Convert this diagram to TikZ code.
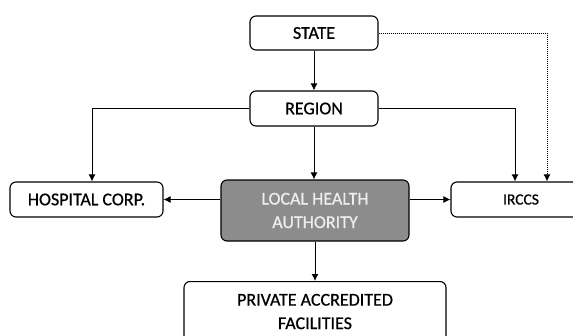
\documentclass[tikz,border=0pt]{standalone}
\usepackage{fontspec}
\setmainfont{Carlito}[FakeBold=0.7]
\usetikzlibrary{arrows.meta}
\definecolor{lhaGray}{RGB}{140,140,140}

\begin{document}
\begin{tikzpicture}[x=1pt, y=-1pt,
    box/.style={draw, line width=1.1pt, rounded corners=6pt, fill=white, align=center, font=\fontsize{18}{23.5}\selectfont, inner sep=0pt},
    link/.style={line width=1pt, -{Latex[length=7pt,width=7pt]}}]
    \useasboundingbox (0,0) rectangle (573,335);

    % Caselle
    \node[box, minimum width=128pt, minimum height=34pt] (state) at (314,33) {STATE};
    \node[box, minimum width=128pt, minimum height=35pt] (region) at (314,108.5) {REGION};
    \node[box, minimum width=153pt, minimum height=35pt] (hosp) at (86.5,199.5) {HOSPITAL CORP.};
    \node[box, minimum width=188pt, minimum height=61pt, fill=lhaGray, text=white!93!black] (lha) at (315,210.5) {LOCAL HEALTH\\AUTHORITY};
    \node[box, minimum width=140pt, minimum height=35pt, font=\fontsize{15.5}{18}\selectfont] (irccs) at (521,199.5) {IRCCS};
    \node[box, minimum width=262pt, minimum height=60pt, anchor=north] (priv) at (315,281) {PRIVATE ACCREDITED\\FACILITIES};

    % Punti di svolta
    \coordinate (hl) at (92,108.5);
    \coordinate (rr) at (515,108.5);
    \coordinate (sr) at (547,33);

    % Collegamenti
    \draw[link] (state) -- (region);
    \draw[link] (region.south) -- (region.south |- lha.north);
    \draw[link] (region.west) -- (hl) -- (hl |- hosp.north);
    \draw[link] (region.east) -- (rr) -- (rr |- irccs.north);
    \draw[link, densely dotted] (state.east) -- (sr) -- (sr |- irccs.north);
    \draw[link] (lha.west |- hosp) -- (hosp);
    \draw[link] (lha.east |- irccs) -- (irccs);
    \draw[link] (lha) -- (priv);
\end{tikzpicture}
\end{document}
